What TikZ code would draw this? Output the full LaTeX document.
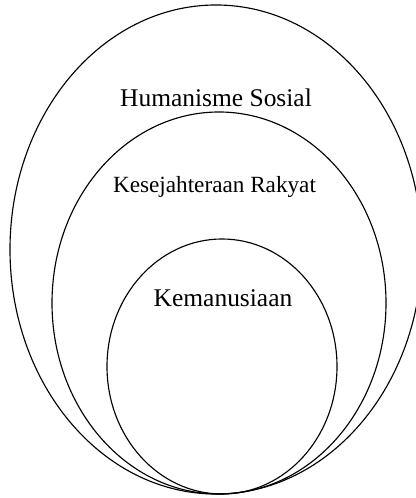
\documentclass[tikz,border=0pt]{standalone}
\usepackage{fontspec}
\setmainfont{Liberation Serif}
\usepackage{tikz}

\begin{document}
\begin{tikzpicture}[x=0.75pt, y=0.75pt,
    ring/.style={line width=0.85pt, black},
    biglabel/.style={anchor=base, inner sep=0pt, font=\fontsize{19.1}{23}\selectfont},
    midlabel/.style={anchor=base, inner sep=0pt, font=\fontsize{17.4}{21}\selectfont}]
  \useasboundingbox (0,0) rectangle (416,498);
  \fill[white] (0,0) rectangle (416,498);
  \draw[ring] (216,248.5) ellipse [x radius=206, y radius=244.5];
  \draw[ring] (219,195) ellipse [x radius=167, y radius=191];
  \draw[ring] (222,131.5) ellipse [x radius=115, y radius=127.5];
  \node[biglabel] (humanisme) at (216,391) {Humanisme Sosial};
  \node[midlabel] (kesejahteraan) at (214.5,305) {Kesejahteraan Rakyat};
  \node[biglabel] (kemanusiaan) at (223,191) {Kemanusiaan};
\end{tikzpicture}
\end{document}
